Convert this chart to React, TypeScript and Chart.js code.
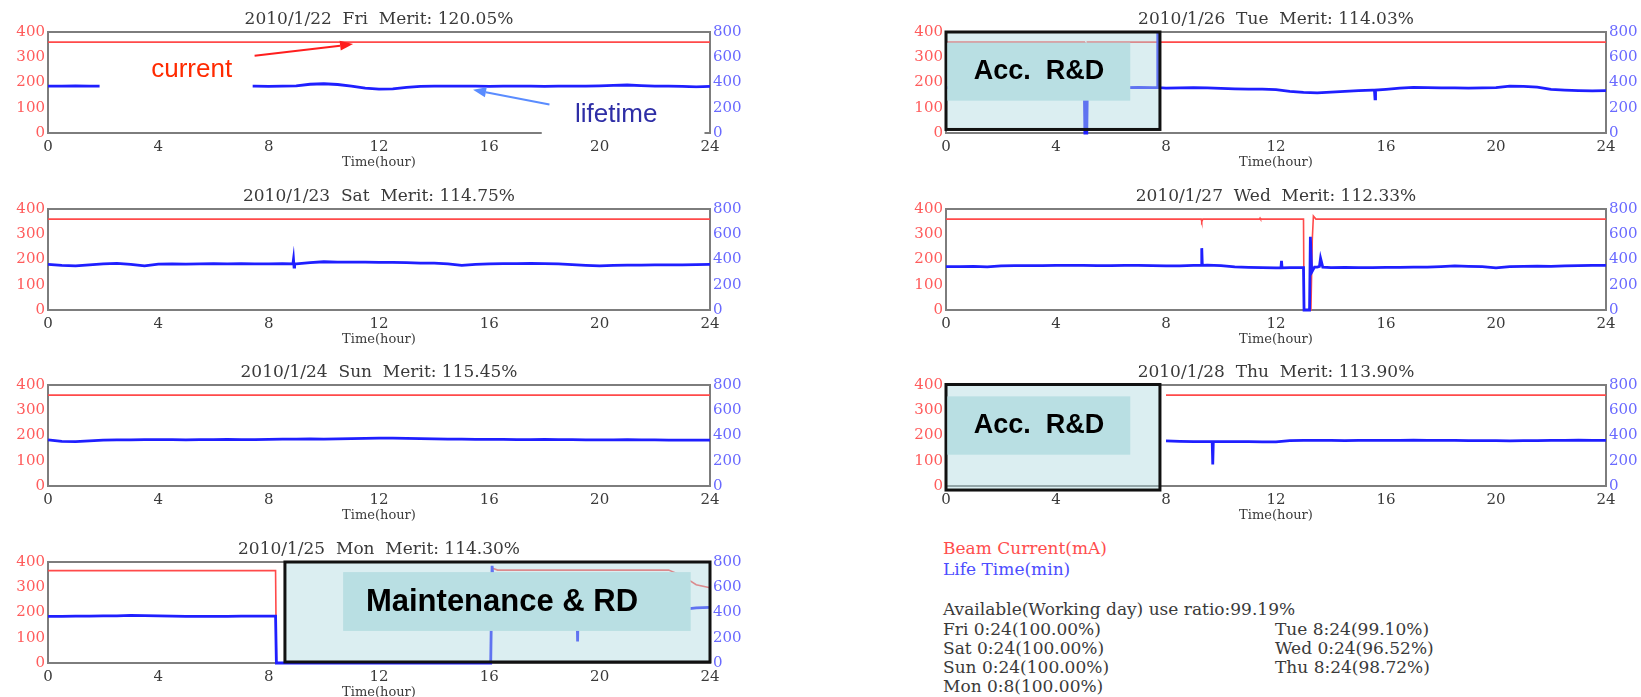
import React, { useEffect, useRef } from "react";
import { Chart, registerables } from "chart.js";

Chart.register(...registerables);

type Pt = [number, number];

// ---------------- data ----------------
const hours = [
  0, 0.5, 1, 1.5, 2, 2.5, 3, 3.5, 4, 4.5, 5, 5.5, 6, 6.5, 7, 7.5, 8, 8.5, 9, 9.5, 10, 10.5, 11, 11.5, 12,
  12.5, 13, 13.5, 14, 14.5, 15, 15.5, 16, 16.5, 17, 17.5, 18, 18.5, 19, 19.5, 20, 20.5, 21, 21.5, 22, 22.5,
  23, 23.5, 24,
];
const xTicks = [0, 4, 8, 12, 16, 20, 24];
const currentTicks = [0, 100, 200, 300, 400];
const lifeTicks = [0, 200, 400, 600, 800];

// Life time (min), half-hour readings
const friLife = [
  372, 371, 373, 372, 372, 373, 371, 372, 373, 372, 371, 373, 372, 371, 372, 372, 370, 372, 374, 386, 390, 384,
  372, 356, 348, 350, 362, 370, 372, 371, 372, 371, 370, 371, 372, 371, 370, 371, 372, 371, 373, 377, 380, 376,
  372, 371, 370, 366, 370,
];
const satLife = [
  362, 354, 350, 358, 366, 370, 362, 350, 364, 366, 364, 366, 368, 366, 368, 366, 366, 368, 366, 376, 382, 380,
  380, 380, 378, 378, 376, 372, 372, 366, 354, 362, 366, 368, 368, 370, 368, 366, 360, 354, 350, 354, 356, 356,
  358, 358, 358, 360, 362,
];
const sunLife = [
  366, 354, 352, 358, 364, 366, 366, 368, 368, 368, 366, 368, 368, 370, 368, 368, 370, 372, 372, 374, 372, 374,
  376, 378, 380, 380, 378, 376, 374, 372, 372, 370, 370, 370, 368, 368, 370, 368, 368, 366, 366, 366, 368, 366,
  366, 364, 364, 364, 364,
];
const monLife = [
  370, 370, 372, 372, 374, 374, 378, 376, 374, 372, 370, 370, 370, 370, 372, 372, 372, 0, 0, 0, 0, 0, 0, 0, 0,
  0, 0, 0, 0, 0, 0, 0, 0, 430, 430, 432, 432, 430, 430, 428, 428, 426, 426, 424, 420, 418, 424, 436, 440,
];
const tueLife = [
  360, 358, 362, 360, 360, 362, 358, 360, 362, 360, 362, 360, 358, 360, 362, 360, 356, 358, 360, 358, 354, 350,
  348, 348, 344, 330, 322, 318, 324, 330, 336, 340, 346, 356, 362, 360, 358, 358, 356, 358, 360, 372, 370, 364,
  346, 340, 336, 334, 336,
];
const wedLife = [
  344, 344, 346, 342, 350, 352, 352, 352, 354, 354, 354, 352, 352, 354, 354, 352, 350, 350, 354, 356, 352, 342,
  338, 336, 334, 336, 336, 340, 336, 338, 336, 336, 338, 338, 340, 340, 344, 350, 346, 344, 334, 344, 346, 348,
  346, 350, 352, 354, 354,
];
const thuLife: (number | null)[] = [
  null, null, null, null, null, null, null, null, null, null, null, null, null, null, null, null, 358, 354, 352,
  352, 352, 352, 352, 350, 350, 360, 362, 362, 362, 360, 362, 362, 362, 362, 364, 362, 362, 362, 360, 360, 360,
  358, 360, 360, 362, 362, 364, 362, 362,
];

// short events (spikes / beam loss) in life time
const friLifeEvents: Pt[] = [];
const satLifeEvents: Pt[] = [[8.88, 366], [8.9, 400], [8.92, 340], [8.94, 366]];
const sunLifeEvents: Pt[] = [];
const monLifeEvents: Pt[] = [
  [8.25, 372], [8.28, 0], [16.05, 0], [16.1, 770], [16.2, 430], [19.18, 428], [19.2, 170], [19.22, 428],
];
const tueLifeEvents: Pt[] = [
  [5.03, 362], [5.05, 0], [5.12, 0], [5.14, 360], [7.68, 360], [7.7, 800], [7.72, 360],
  [15.58, 340], [15.6, 270], [15.62, 340],
];
const wedLifeEvents: Pt[] = [
  [9.28, 354], [9.3, 490], [9.32, 354], [12.18, 334], [12.2, 390], [12.22, 334],
  [13.02, 0], [13.22, 0], [13.25, 580], [13.3, 300], [13.4, 340], [13.58, 345], [13.62, 410], [13.7, 340],
];
const thuLifeEvents: Pt[] = [[9.68, 352], [9.7, 170], [9.72, 352]];

// Beam current (mA)
const friCurrent: Pt[] = [[0, 360], [24, 360]];
const satCurrent: Pt[] = [[0, 360], [24, 360]];
const sunCurrent: Pt[] = [[0, 360], [24, 360]];
const monCurrent: Pt[] = [
  [0, 366], [8.25, 366], [8.28, 0], [16.05, 0], [16.1, 376], [16.3, 368], [22.5, 368], [23.0, 345], [23.5, 310],
  [24, 298],
];
const tueCurrent: Pt[] = [[0, 360], [5.03, 360], [5.05, 0], [5.12, 0], [5.14, 360], [24, 360]];
const wedCurrent: Pt[] = [
  [0, 360], [9.28, 360], [9.3, 350], [9.34, 360], [11.4, 360], [11.42, 364], [11.44, 360], [13.0, 360],
  [13.02, 0], [13.27, 0], [13.32, 280], [13.36, 372], [13.45, 360], [24, 360],
];
const thuCurrent: Pt[] = [[8, 360], [24, 360]];

const titles = [
  "2010/1/22  Fri  Merit: 120.05%",
  "2010/1/23  Sat  Merit: 114.75%",
  "2010/1/24  Sun  Merit: 115.45%",
  "2010/1/25  Mon  Merit: 114.30%",
  "2010/1/26  Tue  Merit: 114.03%",
  "2010/1/27  Wed  Merit: 112.33%",
  "2010/1/28  Thu  Merit: 113.90%",
];

const legendLines = ["Beam Current(mA)", "Life Time(min)"];
const ratioTitle = "Available(Working day) use ratio:99.19%";
const availLeft = ["Fri 0:24(100.00%)", "Sat 0:24(100.00%)", "Sun 0:24(100.00%)", "Mon 0:8(100.00%)"];
const availRight = ["Tue 8:24(99.10%)", "Wed 0:24(96.52%)", "Thu 8:24(98.72%)"];

// ---------------- styles / layout ----------------
const RED = "#ff4a4a";
const BLUE = "#1f1fff";
const FRAME = "#7d7d7d";
const TEXT = "#3a3a3a";
const RED_TICK = "#ff5c5c";
const BLUE_TICK = "#6a6aff";
const SERIF = "'DejaVu Serif', serif";
const SANS = "'Liberation Sans', Arial, sans-serif";
const SHADE = "rgba(176, 218, 224, 0.45)";
const LABEL_BOX = "#b9dfe3";

const COLS = [
  { left: 0, width: 760, plotLeft: 48, plotRight: 710 },
  { left: 860, width: 781, plotLeft: 946, plotRight: 1606 },
];
const ROW_TOPS = [32, 209, 385, 562];
const PLOT_H = 101;
const PAD_TOP = 28;
const XAXIS_H = 40;
const CANVAS_H = PAD_TOP + PLOT_H + XAXIS_H;

type Overlay =
  | { kind: "rect"; x0: number; x1: number; y0: number; y1: number; fill: string; stroke?: string; lw?: number }
  | { kind: "text"; x: number; y: number; text: string; font: string; color: string }
  | { kind: "arrow"; x0: number; y0: number; x1: number; y1: number; color: string; lw: number };

interface PanelDef {
  title: string;
  col: number;
  row: number;
  life: (number | null)[];
  lifeEvents: Pt[];
  current: Pt[];
  overlays: Overlay[];
}

const accBox = (y0: number, y1: number, ly0: number, ly1: number): Overlay[] => [
  { kind: "rect", x0: 0, x1: 7.78, y0, y1, fill: SHADE, stroke: "#111", lw: 3 },
  { kind: "rect", x0: 0.05, x1: 6.7, y0: ly0, y1: ly1, fill: LABEL_BOX },
  { kind: "text", x: 3.38, y: (ly0 + ly1) / 2, text: "Acc.  R&D", font: `bold 27px ${SANS}`, color: "#000" },
];

const panels: PanelDef[] = [
  {
    title: titles[0], col: 0, row: 0, life: friLife, lifeEvents: friLifeEvents, current: friCurrent,
    overlays: [
      { kind: "rect", x0: 1.87, x1: 7.42, y0: 174, y1: 355, fill: "#ffffff" },
      { kind: "text", x: 5.21, y: 251, text: "current", font: `26px ${SANS}`, color: "#ff2a00" },
      { kind: "arrow", x0: 7.49, y0: 306, x1: 11.06, y1: 352, color: "#ff1e1e", lw: 2 },
      { kind: "rect", x0: 17.9, x1: 23.8, y0: -10, y1: 176, fill: "#ffffff" },
      { kind: "text", x: 20.6, y: 72, text: "lifetime", font: `26px ${SANS}`, color: "#2e2ea6" },
      { kind: "arrow", x0: 18.18, y0: 113, x1: 15.41, y1: 171, color: "#5a8cff", lw: 2 },
    ],
  },
  { title: titles[1], col: 0, row: 1, life: satLife, lifeEvents: satLifeEvents, current: satCurrent, overlays: [] },
  { title: titles[2], col: 0, row: 2, life: sunLife, lifeEvents: sunLifeEvents, current: sunCurrent, overlays: [] },
  {
    title: titles[3], col: 0, row: 3, life: monLife, lifeEvents: monLifeEvents, current: monCurrent,
    overlays: [
      { kind: "rect", x0: 8.59, x1: 24, y0: 4, y1: 400, fill: SHADE, stroke: "#111", lw: 3 },
      { kind: "rect", x0: 10.7, x1: 23.3, y0: 127, y1: 360, fill: LABEL_BOX },
      { kind: "text", x: 16.46, y: 240, text: "Maintenance & RD", font: `bold 31px ${SANS}`, color: "#000" },
    ],
  },
  {
    title: titles[4], col: 1, row: 0, life: tueLife, lifeEvents: tueLifeEvents, current: tueCurrent,
    overlays: accBox(14, 400, 128, 358),
  },
  { title: titles[5], col: 1, row: 1, life: wedLife, lifeEvents: wedLifeEvents, current: wedCurrent, overlays: [] },
  {
    title: titles[6], col: 1, row: 2, life: thuLife, lifeEvents: thuLifeEvents, current: thuCurrent,
    overlays: accBox(-16, 402, 124, 355),
  },
];

function mergeSeries(grid: (number | null)[], events: Pt[]) {
  const pts: Pt[] = [];
  grid.forEach((v, i) => {
    if (v !== null) pts.push([hours[i], v]);
  });
  events.forEach((e) => pts.push(e));
  pts.sort((a, b) => a[0] - b[0]);
  return pts.map(([x, y]) => ({ x, y }));
}

function makePlugin(p: PanelDef) {
  return {
    id: "panelDecor",
    beforeDatasetsDraw(chart: any) {
      const { ctx, chartArea: a } = chart;
      ctx.save();
      ctx.strokeStyle = FRAME;
      ctx.lineWidth = 2;
      ctx.strokeRect(a.left, a.top, a.right - a.left, a.bottom - a.top);
      ctx.restore();
    },
    afterDatasetsDraw(chart: any) {
      const { ctx } = chart;
      const xs = chart.scales.x;
      const ys = chart.scales.y;
      ctx.save();
      for (const o of p.overlays) {
        if (o.kind === "rect") {
          const X0 = xs.getPixelForValue(o.x0);
          const X1 = xs.getPixelForValue(o.x1);
          const Y0 = ys.getPixelForValue(o.y0);
          const Y1 = ys.getPixelForValue(o.y1);
          ctx.fillStyle = o.fill;
          ctx.fillRect(X0, Y1, X1 - X0, Y0 - Y1);
          if (o.stroke) {
            ctx.strokeStyle = o.stroke;
            ctx.lineWidth = o.lw || 2;
            ctx.strokeRect(X0, Y1, X1 - X0, Y0 - Y1);
          }
        } else if (o.kind === "text") {
          ctx.font = o.font;
          ctx.fillStyle = o.color;
          ctx.textAlign = "center";
          ctx.textBaseline = "middle";
          ctx.fillText(o.text, xs.getPixelForValue(o.x), ys.getPixelForValue(o.y));
        } else if (o.kind === "arrow") {
          const X0 = xs.getPixelForValue(o.x0);
          const Y0 = ys.getPixelForValue(o.y0);
          const X1 = xs.getPixelForValue(o.x1);
          const Y1 = ys.getPixelForValue(o.y1);
          const ang = Math.atan2(Y1 - Y0, X1 - X0);
          const hl = 13;
          const hw = 5;
          const bx = X1 - hl * Math.cos(ang);
          const by = Y1 - hl * Math.sin(ang);
          ctx.strokeStyle = o.color;
          ctx.fillStyle = o.color;
          ctx.lineWidth = o.lw;
          ctx.beginPath();
          ctx.moveTo(X0, Y0);
          ctx.lineTo(bx, by);
          ctx.stroke();
          ctx.beginPath();
          ctx.moveTo(X1, Y1);
          ctx.lineTo(bx + hw * Math.sin(ang), by - hw * Math.cos(ang));
          ctx.lineTo(bx - hw * Math.sin(ang), by + hw * Math.cos(ang));
          ctx.closePath();
          ctx.fill();
        }
      }
      ctx.restore();
    },
    afterDraw(chart: any) {
      const { ctx, chartArea: a } = chart;
      const cx = (a.left + a.right) / 2;
      ctx.save();
      ctx.fillStyle = TEXT;
      ctx.textAlign = "center";
      ctx.textBaseline = "middle";
      ctx.font = `17px ${SERIF}`;
      ctx.fillText(p.title, cx, a.top - 12);
      ctx.font = `13px ${SERIF}`;
      ctx.fillText("Time(hour)", cx, a.bottom + 30);
      ctx.restore();
    },
  };
}

function PanelChart({ p }: { p: PanelDef }) {
  const ref = useRef<HTMLCanvasElement>(null);
  const geo = COLS[p.col];
  useEffect(() => {
    const leftW = geo.plotLeft - geo.left;
    const rightW = geo.left + geo.width - geo.plotRight;
    const chart = new Chart(ref.current as HTMLCanvasElement, {
      type: "line",
      data: {
        datasets: [
          {
            label: "Life Time(min)",
            data: mergeSeries(p.life, p.lifeEvents),
            yAxisID: "y1",
            borderColor: BLUE,
            borderWidth: 2.8,
            pointRadius: 0,
            tension: 0,
            clip: false as any,
            order: 0,
          },
          {
            label: "Beam Current(mA)",
            data: p.current.map(([x, y]) => ({ x, y })),
            yAxisID: "y",
            borderColor: RED,
            borderWidth: 1.6,
            pointRadius: 0,
            tension: 0,
            clip: false as any,
            order: 1,
          },
        ],
      },
      options: {
        animation: false,
        responsive: false,
        maintainAspectRatio: false,
        devicePixelRatio: 1,
        events: [],
        layout: { padding: { top: PAD_TOP, left: 0, right: 0, bottom: 0 } },
        plugins: { legend: { display: false }, tooltip: { enabled: false }, title: { display: false } },
        scales: {
          x: {
            type: "linear",
            min: 0,
            max: 24,
            grid: { display: false, drawTicks: false },
            border: { display: false },
            ticks: { color: TEXT, font: { family: SERIF, size: 15 }, padding: 5, maxRotation: 0, autoSkip: false },
            afterBuildTicks: (s: any) => {
              s.ticks = xTicks.map((v) => ({ value: v }));
            },
            afterFit: (s: any) => {
              s.height = XAXIS_H;
            },
          },
          y: {
            type: "linear",
            position: "left",
            min: 0,
            max: 400,
            grid: { display: false, drawTicks: false },
            border: { display: false },
            ticks: { color: RED_TICK, font: { family: SERIF, size: 15 }, padding: 3 },
            afterBuildTicks: (s: any) => {
              s.ticks = currentTicks.map((v) => ({ value: v }));
            },
            afterFit: (s: any) => {
              s.width = leftW;
            },
          },
          y1: {
            type: "linear",
            position: "right",
            min: 0,
            max: 800,
            grid: { display: false, drawTicks: false },
            border: { display: false },
            ticks: { color: BLUE_TICK, font: { family: SERIF, size: 15 }, padding: 3 },
            afterBuildTicks: (s: any) => {
              s.ticks = lifeTicks.map((v) => ({ value: v }));
            },
            afterFit: (s: any) => {
              s.width = rightW;
            },
          },
        },
      } as any,
      plugins: [makePlugin(p) as any],
    });
    return () => chart.destroy();
  }, []);
  return (
    <canvas
      ref={ref}
      width={geo.width}
      height={CANVAS_H}
      style={{ position: "absolute", left: geo.left, top: ROW_TOPS[p.row] - PAD_TOP, width: geo.width, height: CANVAS_H }}
    />
  );
}

const textStyle = (x: number, yc: number, color: string): React.CSSProperties => ({
  position: "absolute",
  left: x,
  top: yc - 10,
  height: 20,
  lineHeight: "20px",
  fontFamily: SERIF,
  fontSize: 17,
  color,
  whiteSpace: "pre",
});

export default function App() {
  const leftYs = [629, 648, 667, 686];
  return (
    <div
      style={{
        position: "absolute",
        left: 0,
        top: 0,
        width: 1641,
        height: 697,
        overflow: "hidden",
        background: "#ffffff",
      }}
    >
      {panels.map((p, i) => (
        <PanelChart key={i} p={p} />
      ))}
      <div style={textStyle(943, 548, "#ff4d4d")}>{legendLines[0]}</div>
      <div style={textStyle(943, 569, "#4d4dff")}>{legendLines[1]}</div>
      <div style={textStyle(943, 609, TEXT)}>{ratioTitle}</div>
      {availLeft.map((t, i) => (
        <div key={"l" + i} style={textStyle(943, leftYs[i], TEXT)}>
          {t}
        </div>
      ))}
      {availRight.map((t, i) => (
        <div key={"r" + i} style={textStyle(1275, leftYs[i], TEXT)}>
          {t}
        </div>
      ))}
    </div>
  );
}
